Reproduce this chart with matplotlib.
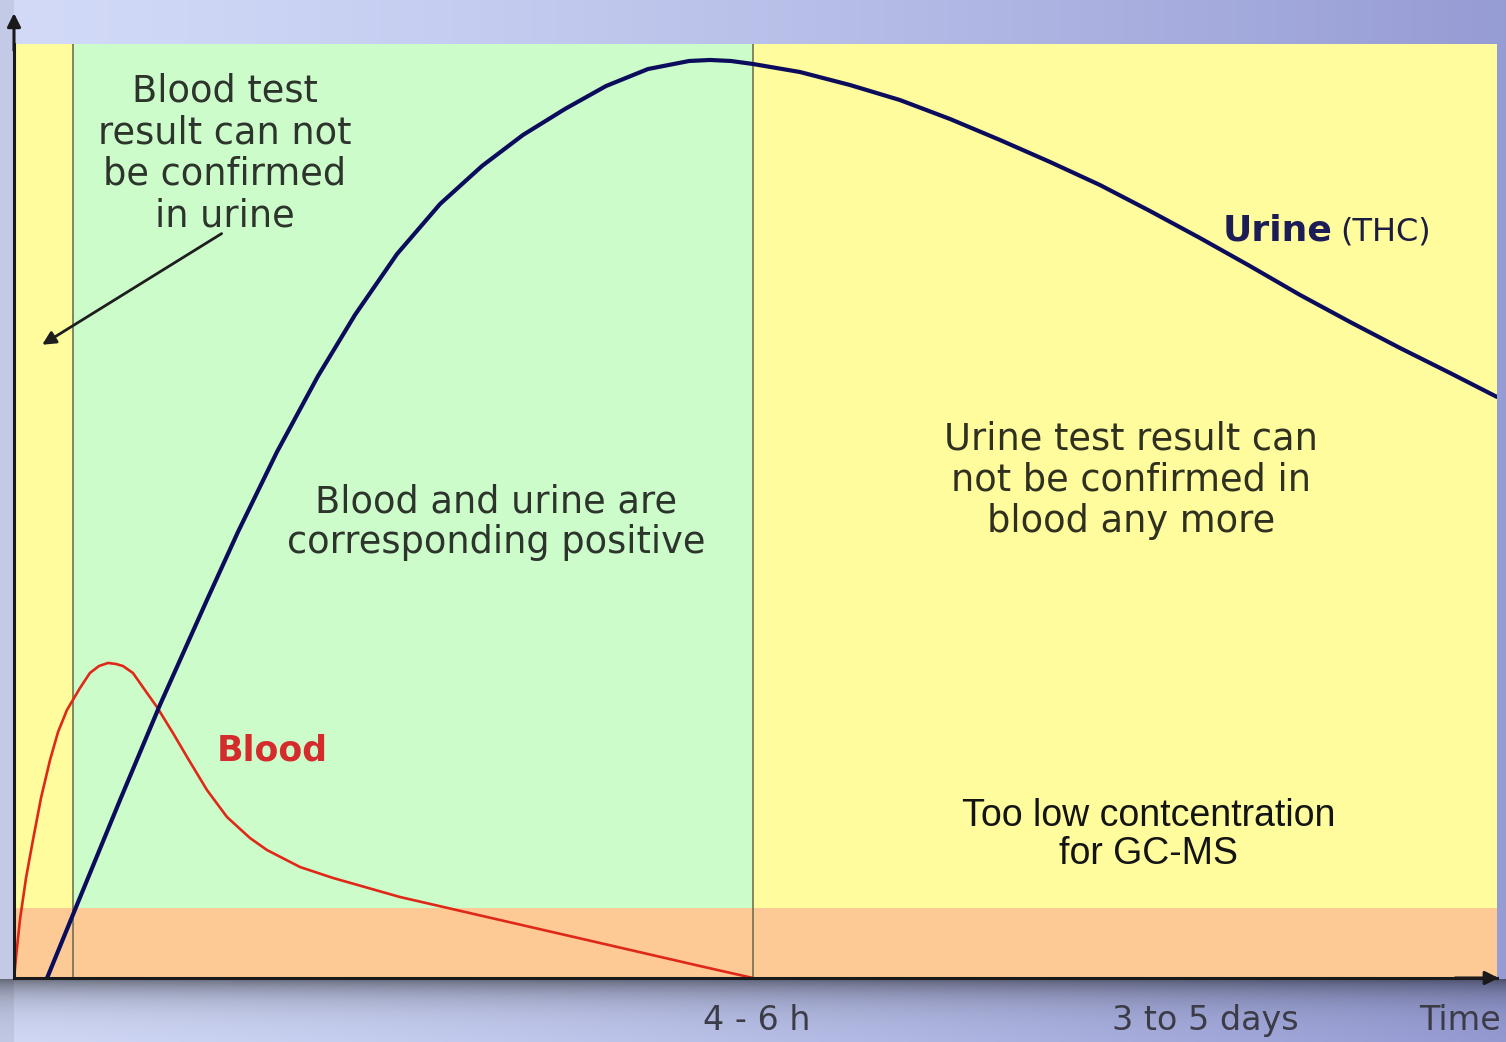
import numpy as np
import matplotlib
matplotlib.use("Agg")
import matplotlib.pyplot as plt

# time axis is arbitrary (0-100), concentration arbitrary (0-100)
urine_t = [2.23, 4.38, 7.15, 9.84, 13.01, 15.10, 17.73, 20.50, 22.99, 25.83,
           28.73, 31.56, 34.32, 37.15, 39.92, 42.75, 45.52, 46.93, 48.35, 49.83,
           53.00, 56.37, 59.74, 63.12, 66.49, 69.86, 73.23, 76.60, 79.97, 83.34,
           86.72, 90.09, 93.46, 96.83, 100.0]
urine_c = [0.0, 8.35, 19.06, 29.23, 40.47, 47.75, 56.32, 64.45, 70.99, 77.52,
           82.87, 86.94, 90.26, 93.04, 95.50, 97.32, 98.18, 98.29, 98.18, 97.86,
           97.00, 95.61, 94.00, 91.97, 89.72, 87.37, 84.90, 82.12, 79.23, 76.23,
           73.13, 70.24, 67.45, 64.78, 62.21]

blood_t = [0.0, 0.20, 0.40, 0.81, 1.28, 1.82, 2.43, 2.97, 3.57, 4.45, 5.12,
           5.73, 6.34, 6.88, 7.35, 8.02, 8.97, 9.64, 10.72, 11.67, 13.01, 14.36,
           15.91, 17.06, 19.29, 21.51, 26.03, 32.77, 39.51, 46.26, 49.83]
blood_c = [0.0, 3.21, 6.21, 10.71, 14.78, 19.27, 23.34, 26.34, 28.69, 31.05,
           32.66, 33.40, 33.73, 33.62, 33.40, 32.66, 30.51, 29.01, 26.23, 23.66,
           20.13, 17.24, 14.99, 13.70, 11.88, 10.71, 8.67, 6.21, 3.75, 1.28, 0.0]

zone_edges = [0.0, 4.0, 49.8, 100.0]       # yellow | green | yellow
zone_colors = ["#fefc9c", "#cdfccb", "#fefc9c"]
gcms_limit = 7.5                            # orange band (below GC-MS limit)

tick_pos = [50.1, 80.3, 97.5]
tick_labels = ["4 - 6 h", "3 to 5 days", "Time"]

W, H = 1506, 1042
fig = plt.figure(figsize=(W / 100, H / 100), dpi=100)

# slide background: blue gradient with a shadow under the time axis
bg_ax = fig.add_axes([0, 0, 1, 1])
bg_ax.set_axis_off()
xx = np.linspace(0, 1, W)[None, :, None]
yy = np.arange(H)[:, None, None]
left = np.array([210, 218, 248]) / 255
right = np.array([150, 156, 212]) / 255
img = left + (right - left) * xx ** 1.3
img = np.broadcast_to(img, (H, W, 3)).copy()
shadow = np.where(yy > 978, np.exp(-(yy - 980) / 18.0), 0.0)
img = img * (1 - 0.45 * shadow)
img[:, :14] = img[:, :14] * 0.93
bg_ax.imshow(np.clip(img, 0, 1), aspect="auto", extent=[0, 1, 0, 1])

ax = fig.add_axes([14 / W, (H - 978) / H, 1483 / W, 934 / H])
ax.set_xlim(0, 100)
ax.set_ylim(0, 100)

for i, col in enumerate(zone_colors):
    ax.axvspan(zone_edges[i], zone_edges[i + 1], color=col, lw=0, zorder=0)
ax.axhspan(0, gcms_limit, color="#fdca96", lw=0, zorder=1)
for xe in zone_edges[1:3]:
    ax.axvline(xe, color="#66664a", lw=1.1, zorder=2)

ax.plot(blood_t, blood_c, color="#e02818", lw=1.9, zorder=4,
        solid_joinstyle="round", solid_capstyle="round")
ax.plot(urine_t, urine_c, color="#0c0c5c", lw=3.0, zorder=5,
        solid_joinstyle="round", solid_capstyle="round")

for s in ["top", "right"]:
    ax.spines[s].set_visible(False)
for s in ["left", "bottom"]:
    ax.spines[s].set_linewidth(2.2)
    ax.spines[s].set_color("#1a1a1a")
    ax.spines[s].set_zorder(6)
ax.set_yticks([])
ax.set_xticks(tick_pos)
ax.set_xticklabels(tick_labels, fontsize=24, color="#3c3c48")
ax.tick_params(axis="x", length=0, pad=19)

# axis arrow heads
ax.annotate("", xy=(0, 1.036), xytext=(0, 0.99), xycoords="axes fraction",
            arrowprops=dict(arrowstyle="-|>", color="#1a1a1a", lw=2.2,
                            mutation_scale=20), annotation_clip=False)
ax.annotate("", xy=(1.003, 0), xytext=(0.97, 0), xycoords="axes fraction",
            arrowprops=dict(arrowstyle="-|>", color="#1a1a1a", lw=2.2,
                            mutation_scale=20), annotation_clip=False)

txt = "#2c342c"
ax.text(14.2, 96.9, "Blood test\nresult can not\nbe confirmed\nin urine",
        ha="center", va="top", fontsize=26.5, color=txt, linespacing=1.15)
ax.annotate("", xy=(1.9, 67.8), xytext=(14.0, 79.7),
            arrowprops=dict(arrowstyle="-|>", color="#1e1e1e", lw=2.0,
                            mutation_scale=20, shrinkA=0, shrinkB=0))
ax.text(32.5, 48.8, "Blood and urine are\ncorresponding positive",
        ha="center", va="center", fontsize=26.5, color=txt, linespacing=1.15)
ax.text(75.3, 53.3, "Urine test result can\nnot be confirmed in\nblood any more",
        ha="center", va="center", fontsize=26.5, color="#303020", linespacing=1.15)
ax.text(76.5, 15.3, "Too low contcentration\nfor GC-MS", ha="center", va="center",
        fontsize=27, color="#141414", family="Liberation Sans", linespacing=1.1)

ax.text(81.5, 79.0, "Urine", ha="left", va="baseline", fontsize=26,
        fontweight="bold", color="#1c1c56")
ax.text(89.4, 79.0, "(THC)", ha="left", va="baseline", fontsize=23,
        color="#1c1c40")
ax.text(13.7, 24.4, "Blood", ha="left", va="center", fontsize=25,
        fontweight="bold", color="#d42c2c")

fig.savefig("out.png", dpi=100)
